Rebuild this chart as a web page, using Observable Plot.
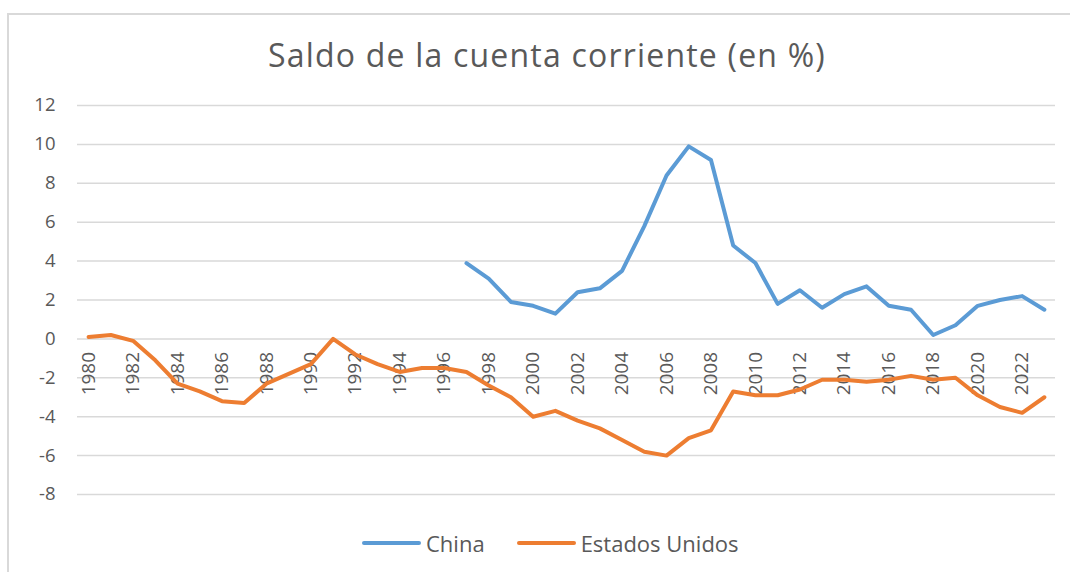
<!DOCTYPE html>
<html>
<head>
<meta charset="utf-8">
<script src="https://cdn.jsdelivr.net/npm/d3@7"></script>
<script src="https://cdn.jsdelivr.net/npm/@observablehq/plot@0.6"></script>
<style>
  html, body { margin: 0; padding: 0; background: #fff; overflow: hidden; }
  #wrap { position: relative; width: 1070px; height: 572px; overflow: hidden; }
  #frame { position: absolute; left: 7px; top: 13px; width: 1100px; height: 620px;
           border-left: 2px solid #d9d9d9; border-top: 2px solid #d9d9d9; }
  #title { position: absolute; left: 0; top: 33px; width: 1094px; text-align: center; line-height: 44px;
           font-family: "Open Sans", sans-serif; font-size: 32px; color: #595959; letter-spacing: 1.2px; }
  #chart { position: absolute; left: 0; top: 90px; }
  #legend { position: absolute; left: 362px; top: 527px; height: 32px; font-family: "Open Sans", sans-serif;
            font-size: 22px; color: #595959; display: flex; align-items: center; white-space: nowrap; }
  .sw { display: inline-block; width: 59px; height: 4px; border-radius: 2px; margin-right: 5px; }
  .item { display: flex; align-items: center; margin-right: 32px; }
</style>
</head>
<body>
<div id="wrap">
  <div id="frame"></div>
  <div id="title">Saldo de la cuenta corriente (en %)</div>
  <div id="chart"></div>
  <div id="legend"></div>
</div>
<script>
const years = d3.range(1980, 2024);
const chinaYears = d3.range(1997, 2024);
const china = [3.9, 3.1, 1.9, 1.7, 1.3, 2.4, 2.6, 3.5, 5.8, 8.4, 9.9, 9.2, 4.8, 3.9, 1.8, 2.5, 1.6, 2.3, 2.7, 1.7, 1.5, 0.2, 0.7, 1.7, 2.0, 2.2, 1.5];
const usa = [0.1, 0.2, -0.1, -1.1, -2.3, -2.7, -3.2, -3.3, -2.3, -1.8, -1.3, 0.0, -0.8, -1.3, -1.7, -1.5, -1.5, -1.7, -2.4, -3.0, -4.0, -3.7, -4.2, -4.6, -5.2, -5.8, -6.0, -5.1, -4.7, -2.7, -2.9, -2.9, -2.6, -2.1, -2.1, -2.2, -2.1, -1.9, -2.1, -2.0, -2.9, -3.5, -3.8, -3.0];
const yTicks = [-8, -6, -4, -2, 0, 2, 4, 6, 8, 10, 12];
const xTickYears = d3.range(1980, 2024, 2);
const seriesNames = ["China", "Estados Unidos"];
const seriesColors = ["#5B9BD5", "#ED7D31"];

const rows = [
  ...chinaYears.map((y, i) => ({year: y, value: china[i], series: "China"})),
  ...years.map((y, i) => ({year: y, value: usa[i], series: "Estados Unidos"}))
];

const plot = Plot.plot({
  width: 1070,
  height: 430,
  marginTop: 15,
  marginBottom: 26,
  marginLeft: 77,
  marginRight: 15,
  style: {fontFamily: "Open Sans, sans-serif", color: "#595959", background: "transparent"},
  x: {type: "linear", domain: [years[0] - 0.5, years[years.length - 1] + 0.5], axis: null},
  y: {domain: [-8, 12], axis: null, label: null},
  color: {domain: seriesNames, range: seriesColors},
  marks: [
    Plot.gridY(yTicks, {stroke: "#d9d9d9", strokeOpacity: 1, strokeWidth: 1.5}),
    Plot.axisY(yTicks, {tickSize: 0, tickPadding: 22, tickFormat: d => String(d), fontSize: 18.5, fill: "#595959", label: null}),
    Plot.text(xTickYears, {x: d => d, y: d => 0, text: d => String(d), rotate: -90, textAnchor: "end",
      dy: 13, fontSize: 19, fill: "#595959", lineAnchor: "middle"}),
    Plot.line(rows, {x: "year", y: "value", z: "series", stroke: "series", strokeWidth: 4,
      strokeLinejoin: "round", strokeLinecap: "round"})
  ]
});
document.getElementById("chart").appendChild(plot);

const legend = document.getElementById("legend");
seriesNames.forEach((name, i) => {
  const item = document.createElement("div");
  item.className = "item";
  const sw = document.createElement("span");
  sw.className = "sw";
  sw.style.background = seriesColors[i];
  const label = document.createElement("span");
  label.textContent = name;
  item.appendChild(sw);
  item.appendChild(label);
  legend.appendChild(item);
});
</script>
</body>
</html>
